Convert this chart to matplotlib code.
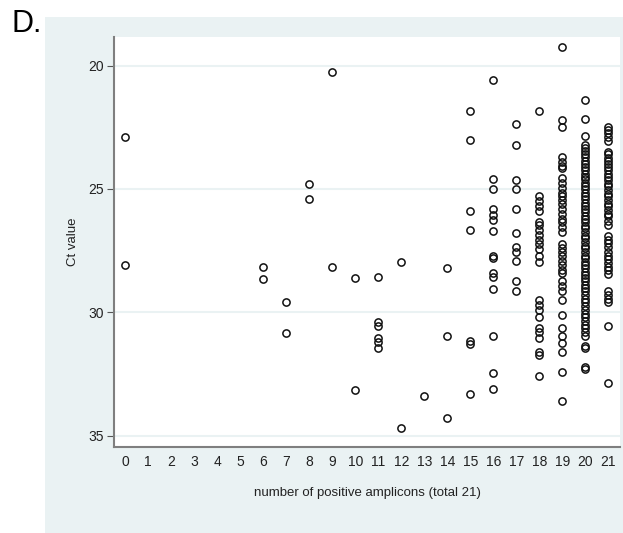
import matplotlib.pyplot as plt
from matplotlib.patches import Rectangle

plt.rcParams['font.family'] = ['Liberation Sans', 'DejaVu Sans']

# Ct values per number of positive amplicons
ct = {
    0: [22.9, 28.1],
    6: [28.15, 28.65],
    7: [29.6, 30.85],
    8: [24.8, 25.4],
    9: [20.25, 28.15],
    10: [28.6, 33.15],
    11: [28.55, 30.4, 30.55, 31.05, 31.2, 31.45],
    12: [27.95, 34.7],
    13: [33.4],
    14: [28.2, 30.95, 34.3],
    15: [21.85, 23.0, 25.9, 26.65, 31.15, 31.3, 33.3],
    16: [20.6, 24.6, 25.0, 25.8, 26.05, 26.25, 26.7, 27.7, 27.8, 28.4, 28.55,
         29.05, 30.95, 32.45, 33.1],
    17: [22.35, 23.2, 24.65, 25.0, 25.8, 26.8, 27.35, 27.55, 27.9, 28.75, 29.15],
    18: [21.85, 25.3, 25.5, 25.7, 25.9, 26.35, 26.45, 26.65, 26.85, 27.05, 27.25,
         27.45, 27.7, 27.95, 29.5, 29.7, 29.9, 30.2, 30.65, 30.8, 31.05, 31.6,
         31.75, 32.6],
    19: [19.25, 22.2, 22.5, 23.7, 23.9, 24.05, 24.15, 24.55, 24.75, 24.95, 25.15,
         25.3, 25.45, 25.6, 25.8, 26.0, 26.2, 26.35, 26.55, 26.75, 27.25, 27.4,
         27.55, 27.7, 27.9, 28.1, 28.3, 28.4, 28.75, 28.95, 29.15, 29.5, 30.1,
         30.65, 30.95, 31.25, 31.6, 32.4, 33.6],
    20: [21.4, 22.15, 22.85, 23.2, 23.35, 23.45, 23.6, 23.7, 23.85, 24.0, 24.1,
         24.25, 24.4, 24.5, 24.6, 24.75, 24.9, 25.0, 25.15, 25.3, 25.4, 25.55,
         25.7, 25.8, 25.95, 26.1, 26.2, 26.35, 26.5, 26.6, 26.75, 26.9, 27.0,
         27.15, 27.3, 27.4, 27.55, 27.7, 27.8, 27.95, 28.1, 28.2, 28.35, 28.5,
         28.6, 28.75, 28.9, 29.0, 29.15, 29.3, 29.45, 29.6, 29.75, 29.9, 30.05,
         30.2, 30.35, 30.5, 30.65, 30.8, 30.95, 31.35, 31.45, 32.2, 32.3],
    21: [22.5, 22.6, 22.75, 22.9, 23.05, 23.5, 23.6, 23.75, 23.85, 24.0, 24.1,
         24.25, 24.4, 24.5, 24.65, 24.8, 24.9, 25.05, 25.2, 25.3, 25.45, 25.6,
         25.7, 25.85, 26.0, 26.1, 26.3, 26.45, 26.9, 27.05, 27.2, 27.35, 27.55,
         27.7, 27.85, 28.0, 28.15, 28.3, 28.45, 29.15, 29.3, 29.45, 29.6, 30.55,
         32.85],
}

xticks = list(range(22))
yticks = [20, 25, 30, 35]

panel = '#eaf2f3'
W, H = 623, 533

fig = plt.figure(figsize=(W/100, H/100), dpi=100)
fig.patches.append(Rectangle((45/W, 0), 1 - 45/W, 1 - 17/H, transform=fig.transFigure,
                             facecolor=panel, edgecolor='none', zorder=-10))
fig.text(12/W, 1 - 32/H, 'D.', fontsize=22, ha='left', va='baseline')

ax = fig.add_axes([114/W, 1 - 447/H, (620-114)/W, (447-37)/H])
ax.set_facecolor('white')

xs, ys = [], []
for k, vals in ct.items():
    xs += [k]*len(vals)
    ys += vals
ax.plot(xs, ys, 'o', markersize=5.2, markerfacecolor='none',
        markeredgecolor='#111111', markeredgewidth=1.1, zorder=3)

ax.set_xlim(-0.49, 21.5)
ax.set_ylim(35.46, 18.84)
ax.set_xticks(xticks)
ax.set_yticks(yticks)
ax.grid(axis='y', color=panel, linewidth=1.5)
ax.set_axisbelow(True)

for s in ['top', 'right']:
    ax.spines[s].set_visible(False)
for s in ['left', 'bottom']:
    ax.spines[s].set_color('#7f7f7f')
    ax.spines[s].set_linewidth(1.5)

ax.tick_params(axis='y', length=5, width=0.8, color='#555555', pad=2, labelsize=10,
               labelcolor='#222222')
ax.tick_params(axis='x', length=0, pad=6, labelsize=10, labelcolor='#222222')

ax.set_ylabel('Ct value', fontsize=9.5, labelpad=7, color='#222222')
ax.set_xlabel('number of positive amplicons (total 21)', fontsize=9.5, labelpad=13,
              color='#222222')

fig.savefig('out.png', dpi=100)
